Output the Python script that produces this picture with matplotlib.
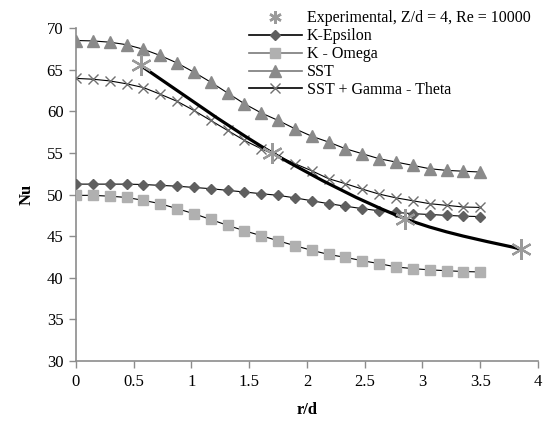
import numpy as np
import matplotlib
matplotlib.use('Agg')
import matplotlib.pyplot as plt
from matplotlib.path import Path
from matplotlib.patches import PathPatch
from matplotlib.lines import Line2D

plt.rcParams['font.family'] = ['Liberation Serif', 'DejaVu Serif']

# r/d positions of the CFD points (25 points from 0 to 3.5)
r_d = [0.0, 0.1458, 0.2917, 0.4375, 0.5833, 0.7292, 0.875, 1.0208, 1.1667,
       1.3125, 1.4583, 1.6042, 1.75, 1.8958, 2.0417, 2.1875, 2.3333, 2.4792,
       2.625, 2.7708, 2.9167, 3.0625, 3.2083, 3.3542, 3.5]

nu_k_eps = [51.25, 51.25, 51.25, 51.25, 51.2, 51.1, 51.0, 50.85, 50.7, 50.5,
            50.3, 50.1, 49.9, 49.6, 49.25, 48.9, 48.6, 48.3, 48.05, 47.85,
            47.7, 47.6, 47.5, 47.4, 47.35]
nu_k_omega = [49.9, 49.9, 49.8, 49.65, 49.3, 48.9, 48.3, 47.7, 47.0, 46.3,
              45.65, 45.05, 44.45, 43.85, 43.3, 42.8, 42.45, 42.05, 41.7, 41.3,
              41.1, 40.95, 40.85, 40.75, 40.7]
nu_sst = [68.5, 68.45, 68.3, 68.0, 67.45, 66.7, 65.8, 64.7, 63.5, 62.2,
          60.9, 59.8, 58.9, 57.9, 57.0, 56.3, 55.5, 54.9, 54.3, 53.9,
          53.5, 53.1, 52.9, 52.8, 52.7]
nu_sst_gt = [63.95, 63.85, 63.65, 63.3, 62.85, 62.05, 61.2, 60.1, 58.9, 57.7,
             56.5, 55.5, 54.6, 53.7, 52.85, 51.9, 51.3, 50.65, 50.05, 49.6,
             49.25, 48.9, 48.7, 48.5, 48.45]

exp_r_d = [0.56, 1.70, 2.85, 3.85]
exp_nu = [65.5, 55.0, 47.1, 43.45]


def smooth_path(x, y):
    # Excel-style smoothed line: cubic Bezier segments (Catmull-Rom, tension 1/6)
    x = np.asarray(x, float)
    y = np.asarray(y, float)
    n = len(x)
    verts = [(x[0], y[0])]
    codes = [Path.MOVETO]
    for i in range(n - 1):
        x0, y0 = (x[i - 1], y[i - 1]) if i > 0 else (x[i], y[i])
        x3, y3 = (x[i + 2], y[i + 2]) if i + 2 < n else (x[i + 1], y[i + 1])
        c1 = (x[i] + (x[i + 1] - x0) / 6, y[i] + (y[i + 1] - y0) / 6)
        c2 = (x[i + 1] - (x3 - x[i]) / 6, y[i + 1] - (y3 - y[i]) / 6)
        verts += [c1, c2, (x[i + 1], y[i + 1])]
        codes += [Path.CURVE4] * 3
    return Path(verts, codes)


fig = plt.figure(figsize=(5.45, 4.22), dpi=100)
ax = fig.add_axes([0.1394, 0.1445, 0.8477, 0.7891])

star = (6, 2, 0)
ax.add_patch(PathPatch(smooth_path(exp_r_d, exp_nu), fill=False,
                       edgecolor='black', linewidth=2.3, zorder=4))
ax.plot(exp_r_d, exp_nu, linestyle='none', marker=star, markersize=15,
        markeredgewidth=1.6, markeredgecolor='#9a9a9a', zorder=5)

ax.plot(r_d, nu_k_eps, color='black', lw=0.8, marker='D', ms=5.5,
        mfc='#5f5f5f', mec='#5f5f5f', zorder=3)
ax.plot(r_d, nu_k_omega, color='black', lw=0.8, marker='s', ms=7,
        mfc='#b0b0b0', mec='#b0b0b0', zorder=3)
ax.plot(r_d, nu_sst, color='black', lw=0.8, marker='^', ms=8,
        mfc='#8a8a8a', mec='#8a8a8a', zorder=3)
ax.plot(r_d, nu_sst_gt, color='black', lw=0.8, marker='x', ms=7,
        mec='#707070', mew=1.0, zorder=3)

ax.set_xlim(0, 4)
ax.set_ylim(30, 70)
ax.set_xticks(np.arange(0, 4.01, 0.5))
ax.set_xticklabels(['0', '0.5', '1', '1.5', '2', '2.5', '3', '3.5', '4'])
ax.set_yticks(np.arange(30, 71, 5))

for side in ['top', 'right']:
    ax.spines[side].set_visible(False)
for side in ['left', 'bottom']:
    ax.spines[side].set_color('#8c8c8c')
    ax.spines[side].set_linewidth(1.2)
ax.tick_params(axis='both', direction='out', length=5, width=1,
               color='#8c8c8c', labelsize=12, pad=4)

ax.set_xlabel('r/d', fontsize=12, fontweight='bold', labelpad=9)
ax.set_ylabel('Nu', fontsize=12, fontweight='bold', labelpad=9)

handles = [
    Line2D([], [], linestyle='none', marker=star, ms=9, mew=1.8, mec='#9a9a9a'),
    Line2D([], [], color='black', lw=1.2, marker='D', ms=5.5, mfc='#5f5f5f', mec='#5f5f5f'),
    Line2D([], [], color='#7a7a7a', lw=1.2, marker='s', ms=7, mfc='#b0b0b0', mec='#b0b0b0'),
    Line2D([], [], color='#7a7a7a', lw=1.2, marker='^', ms=8, mfc='#8a8a8a', mec='#8a8a8a'),
    Line2D([], [], color='black', lw=1.2, marker='x', ms=7, mec='#707070'),
]
labels = ['Experimental, Z/d = 4, Re = 10000', 'K-Epsilon', 'K - Omega',
          'SST', 'SST + Gamma - Theta']
fig.legend(handles, labels, loc='upper left', bbox_to_anchor=(0.438, 1.0),
           frameon=False, fontsize=11.5, handlelength=3.3, handletextpad=0.3,
           labelspacing=0.12, borderaxespad=0.25)

fig.savefig('out.png', dpi=100)
